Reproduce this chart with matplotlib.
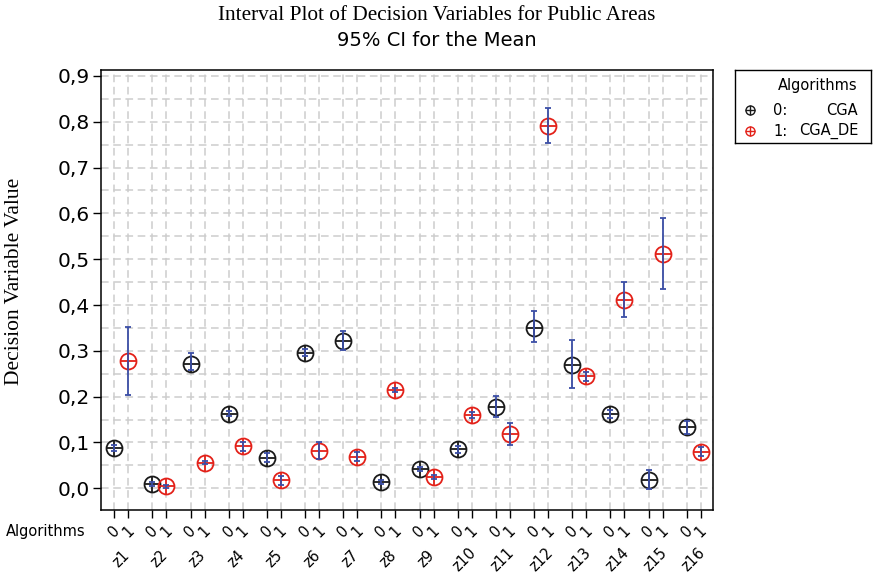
import numpy as np
import matplotlib
matplotlib.use("Agg")
import matplotlib.pyplot as plt
from matplotlib.ticker import MultipleLocator, FuncFormatter

# data
variables = ["z1", "z2", "z3", "z4", "z5", "z6", "z7", "z8",
             "z9", "z10", "z11", "z12", "z13", "z14", "z15", "z16"]

cga_mean = [0.088, 0.010, 0.271, 0.163, 0.067, 0.296, 0.322, 0.014,
            0.042, 0.085, 0.178, 0.350, 0.269, 0.162, 0.019, 0.134]
cga_lo = [0.082, 0.006, 0.258, 0.158, 0.057, 0.289, 0.302, 0.010,
          0.037, 0.077, 0.155, 0.320, 0.218, 0.154, -0.001, 0.118]
cga_hi = [0.094, 0.014, 0.295, 0.168, 0.077, 0.303, 0.344, 0.018,
          0.047, 0.093, 0.201, 0.386, 0.323, 0.170, 0.039, 0.146]

de_mean = [0.278, 0.004, 0.056, 0.092, 0.017, 0.082, 0.069, 0.215,
           0.025, 0.160, 0.118, 0.791, 0.244, 0.412, 0.512, 0.080]
de_lo = [0.204, 0.001, 0.052, 0.082, 0.007, 0.063, 0.059, 0.211,
         0.021, 0.153, 0.094, 0.753, 0.234, 0.374, 0.435, 0.070]
de_hi = [0.352, 0.007, 0.060, 0.102, 0.027, 0.101, 0.079, 0.219,
         0.029, 0.167, 0.142, 0.830, 0.254, 0.450, 0.591, 0.090]

algo_codes = ["0", "1"]
legend_names = ["CGA", "CGA_DE"]

SANS = ["DejaVu Sans"]
SERIF = ["Liberation Serif", "DejaVu Serif"]
black = "#1a1a1a"
red = "#e32119"
blue = "#3b4ea6"
gridc = "#cdcdcd"

fig = plt.figure(figsize=(8.74, 5.74), dpi=100)
ax = fig.add_axes([101 / 874, 1 - 510 / 574, 612 / 874, 440 / 574])

n = len(variables)
gx = np.arange(n)
offset = 0.366
x0 = gx
x1 = gx + offset

for xs, m, lo, hi, col in [(x0, cga_mean, cga_lo, cga_hi, black),
                           (x1, de_mean, de_lo, de_hi, red)]:
    m = np.array(m)
    err = [m - np.array(lo), np.array(hi) - m]
    ax.plot(xs, m, "o", ms=11.5, mfc="none", mec=col, mew=1.3, zorder=3)
    ax.plot(xs, m, "+", ms=11.5, mec=col, mew=1.3, zorder=3)
    ax.errorbar(xs, m, yerr=err, fmt="none", ecolor=blue, elinewidth=1.3,
                capsize=2.5, capthick=1.3, zorder=4)

ax.set_xlim(-0.348, n - 1 + 0.688)
ax.set_ylim(-0.0474, 0.913)

ticks = np.sort(np.concatenate([x0, x1]))
ax.set_xticks(ticks)
ax.set_xticklabels(algo_codes * n, rotation=45, fontsize=10.5, family=SANS)
ax.yaxis.set_major_locator(MultipleLocator(0.1))
ax.yaxis.set_minor_locator(MultipleLocator(0.05))
ax.yaxis.set_major_formatter(FuncFormatter(lambda v, p: f"{v:.1f}".replace(".", ",")))
for lab in ax.get_yticklabels():
    lab.set_family(SANS)
ax.tick_params(axis="y", which="major", labelsize=14.5, length=6, width=1, pad=2)
ax.tick_params(axis="y", which="minor", length=0)
ax.tick_params(axis="x", length=6, width=1, pad=3)

ax.grid(True, which="both", color=gridc, linestyle=(0, (5, 3)), linewidth=1.1)
ax.set_axisbelow(True)
for s in ax.spines.values():
    s.set_linewidth(1.1)

# group labels under the algorithm codes
for i, name in enumerate(variables):
    ax.text(i + offset / 2, -0.112, name, transform=ax.get_xaxis_transform(),
            rotation=45, ha="center", va="center", fontsize=10.5, family=SANS)
ax.text(-0.026, -0.048, "Algorithms", transform=ax.transAxes, ha="right",
        va="center", fontsize=10.5, family=SANS)

fig.text(15 / 874, 1 - 281 / 574, "Decision Variable Value", rotation=90,
         ha="center", va="center", fontsize=15.5, family=SERIF)
fig.text(0.5, 1 - 15 / 574, "Interval Plot of Decision Variables for Public Areas",
         ha="center", va="center", fontsize=15.3, family=SERIF)
fig.text(0.5, 1 - 40 / 574, "95% CI for the Mean", ha="center", va="center",
         fontsize=14, family=SANS)

# legend box
lax = fig.add_axes([735 / 874, 1 - 143 / 574, 136 / 874, 73 / 574])
lax.set_xlim(0, 136)
lax.set_ylim(73, 0)
lax.set_xticks([])
lax.set_yticks([])
for s in lax.spines.values():
    s.set_linewidth(1.0)
lax.text(123, 15, "Algorithms", ha="right", va="center", fontsize=10.5, family=SANS)
for k, (code, name, col) in enumerate(zip(algo_codes, legend_names, [black, red])):
    yy = 40 + k * 21
    lax.plot([15], [yy], "o", ms=6.5, mfc="none", mec=col, mew=1.0)
    lax.plot([15], [yy], "+", ms=6.5, mec=col, mew=1.0)
    lax.text(38, yy, code + ":", ha="left", va="center", fontsize=10.5, family=SANS)
    lax.text(123, yy, name, ha="right", va="center", fontsize=10.5, family=SANS)

fig.savefig("out.png", dpi=100)
